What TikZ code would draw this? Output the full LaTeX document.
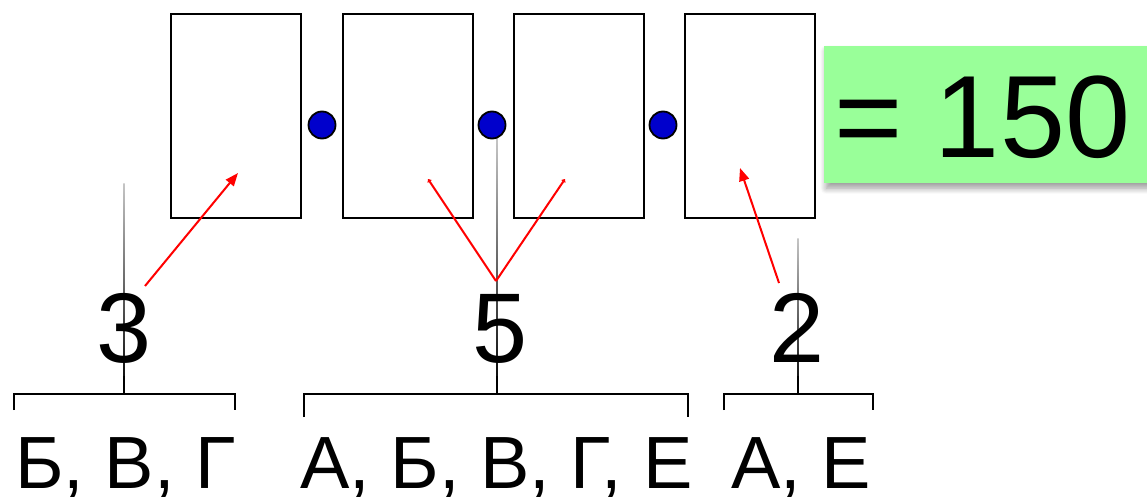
\documentclass[tikz,border=0pt]{standalone}
\usepackage{fontspec}
\setmainfont{Liberation Sans}
\usetikzlibrary{arrows.meta,shadows.blur}
\definecolor{dotblue}{RGB}{0,0,204}
\definecolor{resgreen}{RGB}{153,255,153}
\tikzset{
  slot/.style={draw=black, line width=2pt, minimum width=130pt, minimum height=204pt, inner sep=0pt},
  dot/.style={circle, draw=black, line width=1.8pt, fill=dotblue, minimum size=27pt, inner sep=0pt},
  count/.style={anchor=base, inner sep=0pt, font=\fontsize{99}{99}\selectfont},
  letters/.style={anchor=base west, inner sep=0pt, font=\fontsize{74}{74}\selectfont},
  bracketline/.style={draw=black, line width=1.6pt},
  pick/.style={draw=red, line width=2pt, -{Triangle[length=13pt,width=10pt]}},
  pickv/.style={draw=red, line width=2pt, -{Triangle[length=3pt,width=5pt]}},
  resbox/.style={fill=resgreen, minimum width=330pt, minimum height=137pt, inner sep=0pt,
    blur shadow={shadow xshift=2pt, shadow yshift=-5pt, shadow blur steps=8, shadow blur radius=6pt}},
}
\newcommand{\stem}[3]{%
  \shade[top color=gray!45, bottom color=black] (#1-0.6,#2) rectangle (#1+0.6,#3);
  \draw[line width=2.4pt] (#1,#3-18) -- (#1,#3);
}
\begin{document}
\begin{tikzpicture}[x=1pt,y=-1pt]
\useasboundingbox (0,0) rectangle (1147,497);

% four slots
\node[slot] (b1) at (236,116) {};
\node[slot] (b2) at (407.5,116) {};
\node[slot] (b3) at (579,116) {};
\node[slot] (b4) at (750,116) {};

% vertical guides from the brackets
\stem{124}{183}{394}
\stem{497}{138}{394}
\stem{798}{238}{394}

% dots between slots
\node[dot] (d1) at (322,125) {};
\node[dot] (d2) at (492,125) {};
\node[dot] (d3) at (663,125) {};

% result
\node[resbox, anchor=north west] (res) at (824,46) {};
\node[anchor=base west, inner sep=0pt, font=\fontsize{117}{117}\selectfont] (restext) at (834,158) {= 150};

% counts
\node[count] (n3) at (124,362) {3};
\node[count] (n5) at (500,362) {5};
\node[count] (n2) at (797,362) {2};

% brackets
\coordinate (l1) at (14,410);  \coordinate (r1) at (235,410);
\coordinate (l2) at (304,417); \coordinate (r2) at (688,417);
\coordinate (l3) at (724,410); \coordinate (r3) at (873,410);
\draw[bracketline] (l1) -- (l1 |- 0,394) -- (r1 |- 0,394) -- (r1);
\draw[bracketline] (l2) -- (l2 |- 0,394) -- (r2 |- 0,394) -- (r2);
\draw[bracketline] (l3) -- (l3 |- 0,394) -- (r3 |- 0,394) -- (r3);

% letter sets
\node[letters] (s1) at (15,488) {Б, В, Г};
\node[letters] (s2) at (300,488) {А, Б, В, Г, Е};
\node[letters] (s3) at (731,488) {А, Е};

% red pointers
\coordinate (a1) at (145,286);
\coordinate (t1) at (238,173);
\coordinate (v0) at (496,281);
\coordinate (tv1) at (428,179);
\coordinate (tv2) at (565,179);
\coordinate (a3) at (779,283);
\coordinate (t3) at (740,168);
\draw[pick] (a1) -- (t1);
\draw[pickv] (v0) -- (tv1);
\draw[pickv] (v0) -- (tv2);
\draw[pick] (a3) -- (t3);
\end{tikzpicture}
\end{document}
